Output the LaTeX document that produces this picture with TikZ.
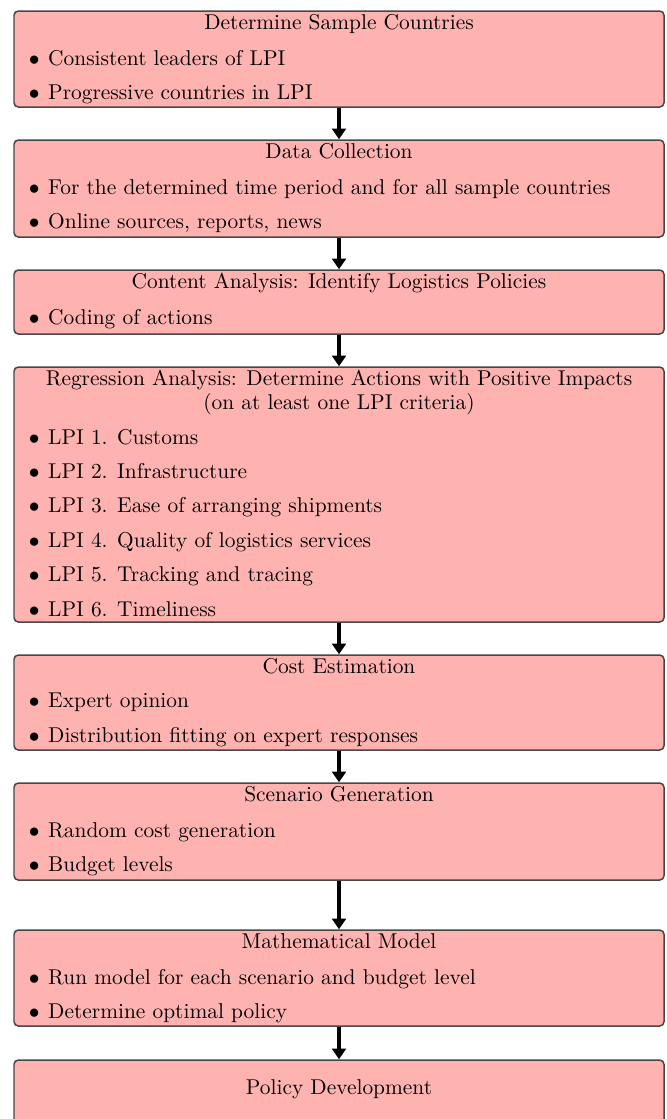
\documentclass[tikz,border=0pt]{standalone}
\usetikzlibrary{arrows.meta,fit}
\definecolor{boxfill}{RGB}{255,179,176}
\definecolor{boxdraw}{RGB}{70,70,70}
\newcommand{\itm}[1]{$\bullet$\hspace{4pt}#1}
\begin{document}
\begin{tikzpicture}[x=0.467pt,y=-0.467pt,
  box/.style={draw=boxdraw, fill=boxfill, line width=0.7pt, rounded corners=2pt, inner sep=0pt},
  ttl/.style={anchor=base, inner sep=0pt},
  itm/.style={anchor=base west, inner sep=0pt},
  flow/.style={line width=1.9pt, -{Triangle[width=6.5pt,length=5pt]}}]
\useasboundingbox (0,0) rectangle (667,1119);
\clip (0,0) rectangle (667,1119);
% boxes
\node[box, fit={(14,11) (664,107)}] (b1) {};
\node[box, fit={(14,140) (664,237)}] (b2) {};
\node[box, fit={(14,270) (664,334)}] (b3) {};
\node[box, fit={(14,367) (664,622)}] (b4) {};
\node[box, fit={(14,655) (664,750)}] (b5) {};
\node[box, fit={(14,783) (664,880)}] (b6) {};
\node[box, fit={(14,930) (664,1026)}] (b7) {};
\node[box, fit={(14,1060) (664,1150)}] (b8) {};
% box 1
\node[ttl] (t1) at (339,29) {Determine Sample Countries};
\node[itm] (i11) at (28.5,65) {\itm{Consistent leaders of LPI}};
\node[itm] (i12) at (28.5,99.5) {\itm{Progressive countries in LPI}};
% box 2
\node[ttl] (t2) at (339,158) {Data Collection};
\node[itm] (i21) at (28.5,194) {\itm{For the determined time period and for all sample countries}};
\node[itm] (i22) at (28.5,228.5) {\itm{Online sources, reports, news}};
% box 3
\node[ttl] (t3) at (339,288) {Content Analysis: Identify Logistics Policies};
\node[itm] (i31) at (28.5,324) {\itm{Coding of actions}};
% box 4
\node[ttl] (t4a) at (339,385) {Regression Analysis: Determine Actions with Positive Impacts};
\node[ttl] (t4b) at (339,409.5) {(on at least one LPI criteria)};
\node[itm] (i41) at (28.5,444) {\itm{LPI 1. Customs}};
\node[itm] (i42) at (28.5,478.4) {\itm{LPI 2. Infrastructure}};
\node[itm] (i43) at (28.5,512.8) {\itm{LPI 3. Ease of arranging shipments}};
\node[itm] (i44) at (28.5,547.2) {\itm{LPI 4. Quality of logistics services}};
\node[itm] (i45) at (28.5,581.6) {\itm{LPI 5. Tracking and tracing}};
\node[itm] (i46) at (28.5,616) {\itm{LPI 6. Timeliness}};
% box 5
\node[ttl] (t5) at (339,673) {Cost Estimation};
\node[itm] (i51) at (28.5,707.5) {\itm{Expert opinion}};
\node[itm] (i52) at (28.5,742) {\itm{Distribution fitting on expert responses}};
% box 6
\node[ttl] (t6) at (339,801) {Scenario Generation};
\node[itm] (i61) at (28.5,837) {\itm{Random cost generation}};
\node[itm] (i62) at (28.5,871.5) {\itm{Budget levels}};
% box 7
\node[ttl] (t7) at (339,948) {Mathematical Model};
\node[itm] (i71) at (28.5,984) {\itm{Run model for each scenario and budget level}};
\node[itm] (i72) at (28.5,1018) {\itm{Determine optimal policy}};
% box 8
\node[ttl] (t8) at (339,1094) {Policy Development};
% arrows
\draw[flow] (b1.south) -- (b2.north);
\draw[flow] (b2.south) -- (b3.north);
\draw[flow] (b3.south) -- (b4.north);
\draw[flow] (b4.south) -- (b5.north);
\draw[flow] (b5.south) -- (b6.north);
\draw[flow] (b6.south) -- (b7.north);
\draw[flow] (b7.south) -- (b8.north);
\end{tikzpicture}
\end{document}
